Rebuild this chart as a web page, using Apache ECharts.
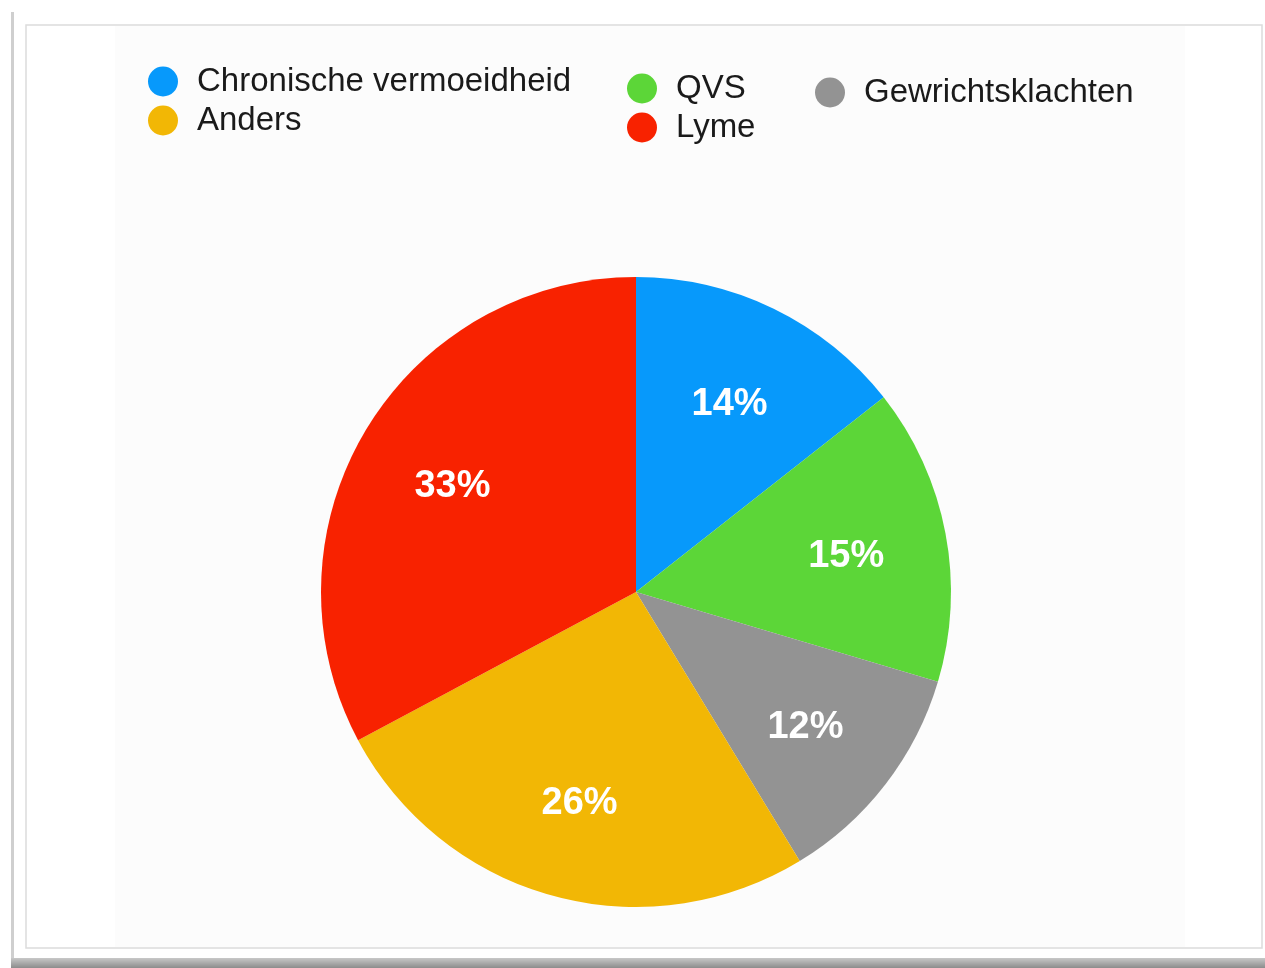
<!DOCTYPE html>
<html>
<head>
<meta charset="utf-8">
<script src="https://cdn.jsdelivr.net/npm/echarts@6/dist/echarts.min.js"></script>
<style>
  html, body { margin: 0; padding: 0; background: #fff; }
  #chart { width: 1265px; height: 968px; }
</style>
</head>
<body>
<div id="chart"></div>
<script>
// data, clockwise from 12 o'clock (slice shares, labels are rounded)
const categories = ['Chronische vermoeidheid', 'QVS', 'Gewrichtsklachten', 'Anders', 'Lyme'];
const percentages = [14.4, 15.2, 11.7, 25.9, 32.8];
const colors = ['#0799fb', '#5cd638', '#939393', '#f2b705', '#f82200'];

// legend columns as in the picture
const legendCols = [
  ['Chronische vermoeidheid', 'Anders'],
  ['QVS', 'Lyme'],
  ['Gewrichtsklachten']
];

const chart = echarts.init(document.getElementById('chart'), null, { renderer: 'canvas' });

const pieData = categories.map((name, i) => ({
  name: name,
  value: percentages[i],
  itemStyle: { color: colors[i] }
}));

function makeLegend(names, left, top) {
  return {
    orient: 'vertical',
    left: left,
    top: top,
    padding: 0,
    icon: 'circle',
    itemWidth: 30,
    itemHeight: 30,
    itemGap: 6,
    selectedMode: false,
    data: names.map(n => ({ name: n, itemStyle: { color: colors[categories.indexOf(n)] } })),
    textStyle: {
      fontFamily: 'Liberation Sans, Arial, sans-serif',
      fontSize: 33,
      lineHeight: 30,
      padding: [0, 0, 0, 14],
      color: '#1a1a1a'
    }
  };
}

const option = {
  backgroundColor: '#ffffff',
  animation: false,
  graphic: [
    // panel background + frame (screenshot look)
    { type: 'rect', shape: { x: 115, y: 26, width: 1070, height: 921 }, style: { fill: '#fcfcfc' }, silent: true, z: -10 },
    { type: 'rect', shape: { x: 26, y: 25, width: 1236, height: 923 }, style: { fill: 'none', stroke: '#dcdcdc', lineWidth: 1.5 }, silent: true, z: -9 },
    { type: 'rect', shape: { x: 11, y: 12, width: 3, height: 948 }, style: { fill: '#cfcfcf' }, silent: true, z: -9 },
    { type: 'rect', shape: { x: 11, y: 958, width: 1254, height: 10 },
      style: { fill: new echarts.graphic.LinearGradient(0, 0, 0, 1, [
        { offset: 0, color: '#c8c8c8' }, { offset: 1, color: '#8c8c8c' }
      ]) }, silent: true, z: -9 }
  ],
  legend: [
    makeLegend(legendCols[0], 148, 65),
    makeLegend(legendCols[1], 627, 72),
    makeLegend(legendCols[2], 815, 76)
  ],
  series: [
    {
      type: 'pie',
      center: [636, 592],
      radius: [0, 315],
      startAngle: 90,
      clockwise: true,
      silent: true,
      label: { show: false },
      labelLine: { show: false },
      itemStyle: { borderWidth: 0 },
      emphasis: { disabled: true },
      data: pieData
    },
    // label ring: places the percentages at ~2/3 of the radius
    {
      type: 'pie',
      center: [636, 592],
      radius: [190, 232],
      startAngle: 90,
      clockwise: true,
      silent: true,
      itemStyle: { color: 'rgba(0,0,0,0)', borderWidth: 0 },
      emphasis: { disabled: true },
      label: {
        show: true,
        position: 'inside',
        formatter: (p) => Math.round(p.value) + '%',
        color: '#ffffff',
        fontFamily: 'Liberation Sans, Arial, sans-serif',
        fontSize: 38,
        fontWeight: 'bold'
      },
      labelLayout: { dy: 5 },
      labelLine: { show: false },
      data: categories.map((name, i) => ({ name: name, value: percentages[i] }))
    }
  ]
};

chart.setOption(option);
window.addEventListener('resize', () => chart.resize());
</script>
</body>
</html>
